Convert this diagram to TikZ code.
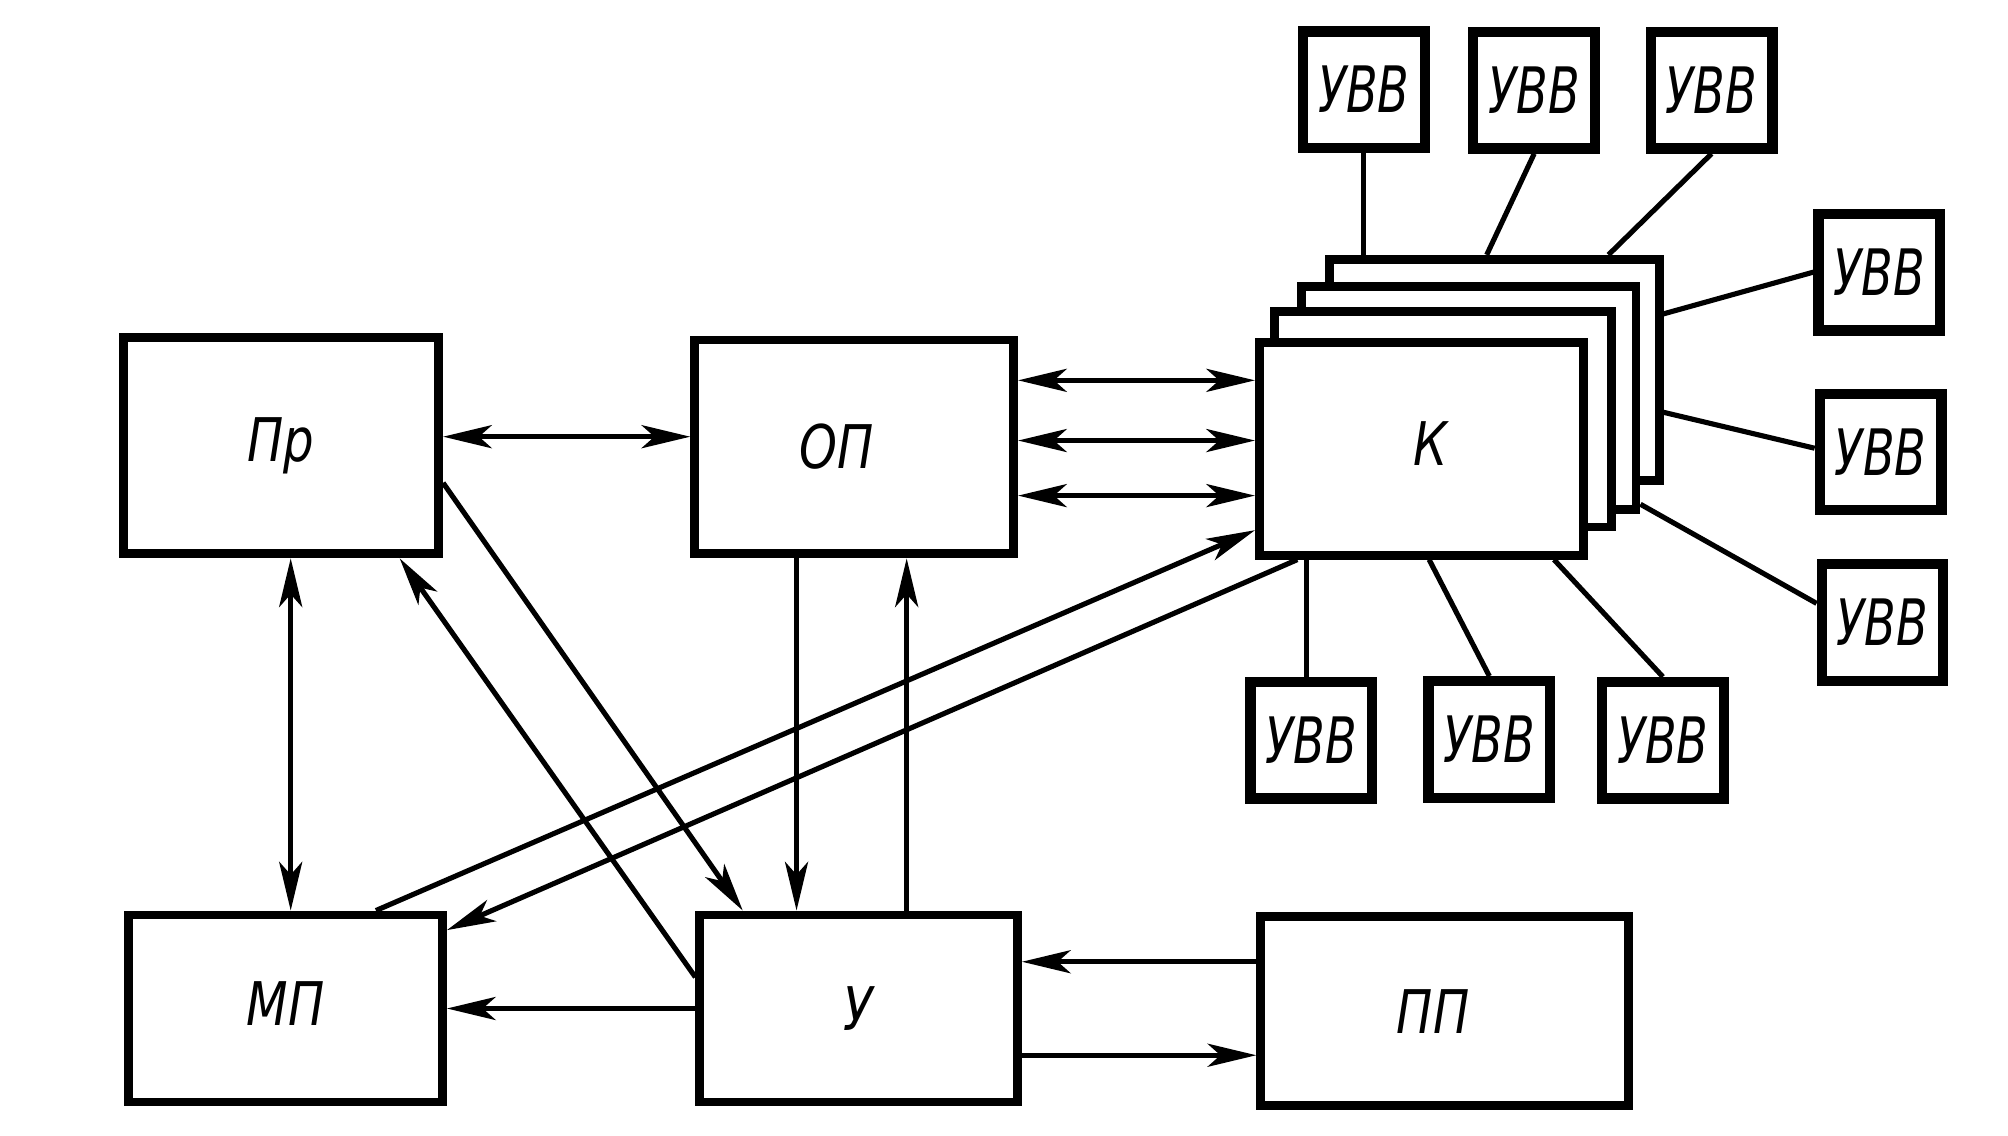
\documentclass[tikz,border=0pt]{standalone}
\usepackage{fontspec}
\usepackage{graphicx}
\newfontfamily\labfont{DejaVu Sans}
\usetikzlibrary{arrows.meta,calc}
\newcommand{\nlab}[2][0.8]{\scalebox{#1}[1]{#2}}
\begin{document}
\begin{tikzpicture}[x=1pt,y=-1pt,
  mainbox/.style={draw, line width=7pt, fill=white, rectangle, inner sep=0pt,
    font=\labfont\itshape\fontsize{47}{50}\selectfont},
  klayer/.style={draw, line width=7pt, fill=white, rectangle, inner sep=0pt},
  uvbbox/.style={draw, line width=8pt, fill=white, rectangle, inner sep=0pt,
    minimum width=95pt, minimum height=91pt,
    font=\labfont\itshape\fontsize{50}{54}\selectfont},
  conn/.style={line width=4pt},
  arr/.style={conn, -{Stealth[length=38pt,width=18pt,inset=10pt]}},
  darr/.style={conn, {Stealth[length=38pt,width=18pt,inset=10pt]}-{Stealth[length=38pt,width=18pt,inset=10pt]}}
]
\useasboundingbox (0,0) rectangle (1568,887);
\fill[white] (0,0) rectangle (1568,887);

% main boxes
\node[mainbox, minimum width=246pt, minimum height=169pt] (pr)  at (219.5,348)   {\nlab{Пр}};
\node[mainbox, minimum width=249pt, minimum height=167pt] (op)  at (667,349)     {\nlab{ОП}\hspace*{28pt}};
\node[mainbox, minimum width=245pt, minimum height=146pt] (mp)  at (223,787.5)   {\raisebox{8pt}{\nlab{МП}}};
\node[mainbox, minimum width=248pt, minimum height=146pt] (ctl) at (670.5,787.5) {\nlab{У}};
\node[mainbox, minimum width=287pt, minimum height=148pt] (pp)  at (1128,789.5)  {\nlab{ПП}\hspace*{18pt}};

% stacked K boxes
\node[klayer, minimum width=257pt, minimum height=173pt] (k4) at (1167,289) {};
\node[klayer, minimum width=261pt, minimum height=174pt] (k3) at (1147,310.5) {};
\node[klayer, minimum width=263pt, minimum height=168pt] (k2) at (1127,327.5) {};
\node[mainbox, minimum width=253pt, minimum height=166pt] (k) at (1110,350.5) {\hspace*{14pt}\raisebox{9pt}{\nlab{К}}};

% UVB boxes
\node[uvbbox] (io1) at (1065,70)     {\nlab[0.72]{УВВ}};
\node[uvbbox] (io2) at (1198,70.5)   {\nlab[0.72]{УВВ}};
\node[uvbbox] (io3) at (1336.5,70.5) {\nlab[0.72]{УВВ}};
\node[uvbbox] (io4) at (1467.5,212.5){\nlab[0.72]{УВВ}};
\node[uvbbox] (io5) at (1468.5,353)  {\nlab[0.72]{УВВ}};
\node[uvbbox] (io6) at (1470,486)    {\nlab[0.72]{УВВ}};
\node[uvbbox] (io7) at (1024,578)    {\nlab[0.72]{УВВ}};
\node[uvbbox] (io8) at (1163,577.5)  {\nlab[0.72]{УВВ}};
\node[uvbbox] (io9) at (1298.5,578)  {\nlab[0.72]{УВВ}};

% UVB connectors
\draw[conn] (io1.south) -- (io1.south |- k4.north);
\draw[conn] (io2.south) -- ($(k4.north west)!0.477!(k4.north east)$);
\draw[conn] (io3.south) -- ($(k4.north west)!0.837!(k4.north east)$);
\draw[conn] (io4.west) -- ($(k4.north east)!0.256!(k4.south east)$);
\draw[conn] ([yshift=3pt]io5.west) -- ($(k4.north east)!0.683!(k4.south east)$);
\draw[conn] ($(io6.north west)!0.35!(io6.south west)$) -- ($(k3.north east)!0.96!(k3.south east)$);
\draw[conn] ([xshift=-4pt]io7.north) -- ([xshift=-4pt]io7.north |- k.south);
\draw[conn] ($(k.south west)!0.523!(k.south east)$) -- (io8.north);
\draw[conn] ($(k.south west)!0.898!(k.south east)$) -- (io9.north);

% main connectors
\draw[darr] ([yshift=7pt]pr.east) -- ([yshift=7pt]pr.east -| op.west);
\draw[darr] ([yshift=52pt]op.east) -- ([yshift=52pt]op.east -| k.west);
\draw[darr] ([yshift=5pt]op.east) -- ([yshift=5pt]op.east -| k.west);
\draw[darr] ([yshift=-38pt]op.east) -- ([yshift=-38pt]op.east -| k.west);
\draw[darr] ([xshift=7.5pt]pr.south) -- ([xshift=7.5pt]pr.south |- mp.north);
\draw[arr] ($(pr.north east)!0.665!(pr.south east)$) -- ($(ctl.north west)!0.145!(ctl.north east)$);
\draw[arr] ($(ctl.north west)!0.34!(ctl.south west)$) -- ($(pr.south west)!0.866!(pr.south east)$);
\draw[arr] ([xshift=-45pt]op.south) -- ([xshift=-45pt]op.south |- ctl.north);
\draw[arr] ([xshift=37.5pt]ctl.north) -- ([xshift=37.5pt]ctl.north |- op.south);
\draw[arr] ($(mp.north west)!0.78!(mp.north east)$) -- ($(k.north west)!0.867!(k.south west)$);
\draw[arr] ($(k.south west)!0.127!(k.south east)$) -- ($(mp.north east)!0.1!(mp.south east)$);
\draw[arr] (ctl.west) -- (ctl.west -| mp.east);
\draw[arr] ([yshift=38.5pt]pp.west) -- ([yshift=38.5pt]pp.west -| ctl.east);
\draw[arr] ([yshift=-34.5pt]pp.west -| ctl.east) -- ([yshift=-34.5pt]pp.west);
\end{tikzpicture}
\end{document}
